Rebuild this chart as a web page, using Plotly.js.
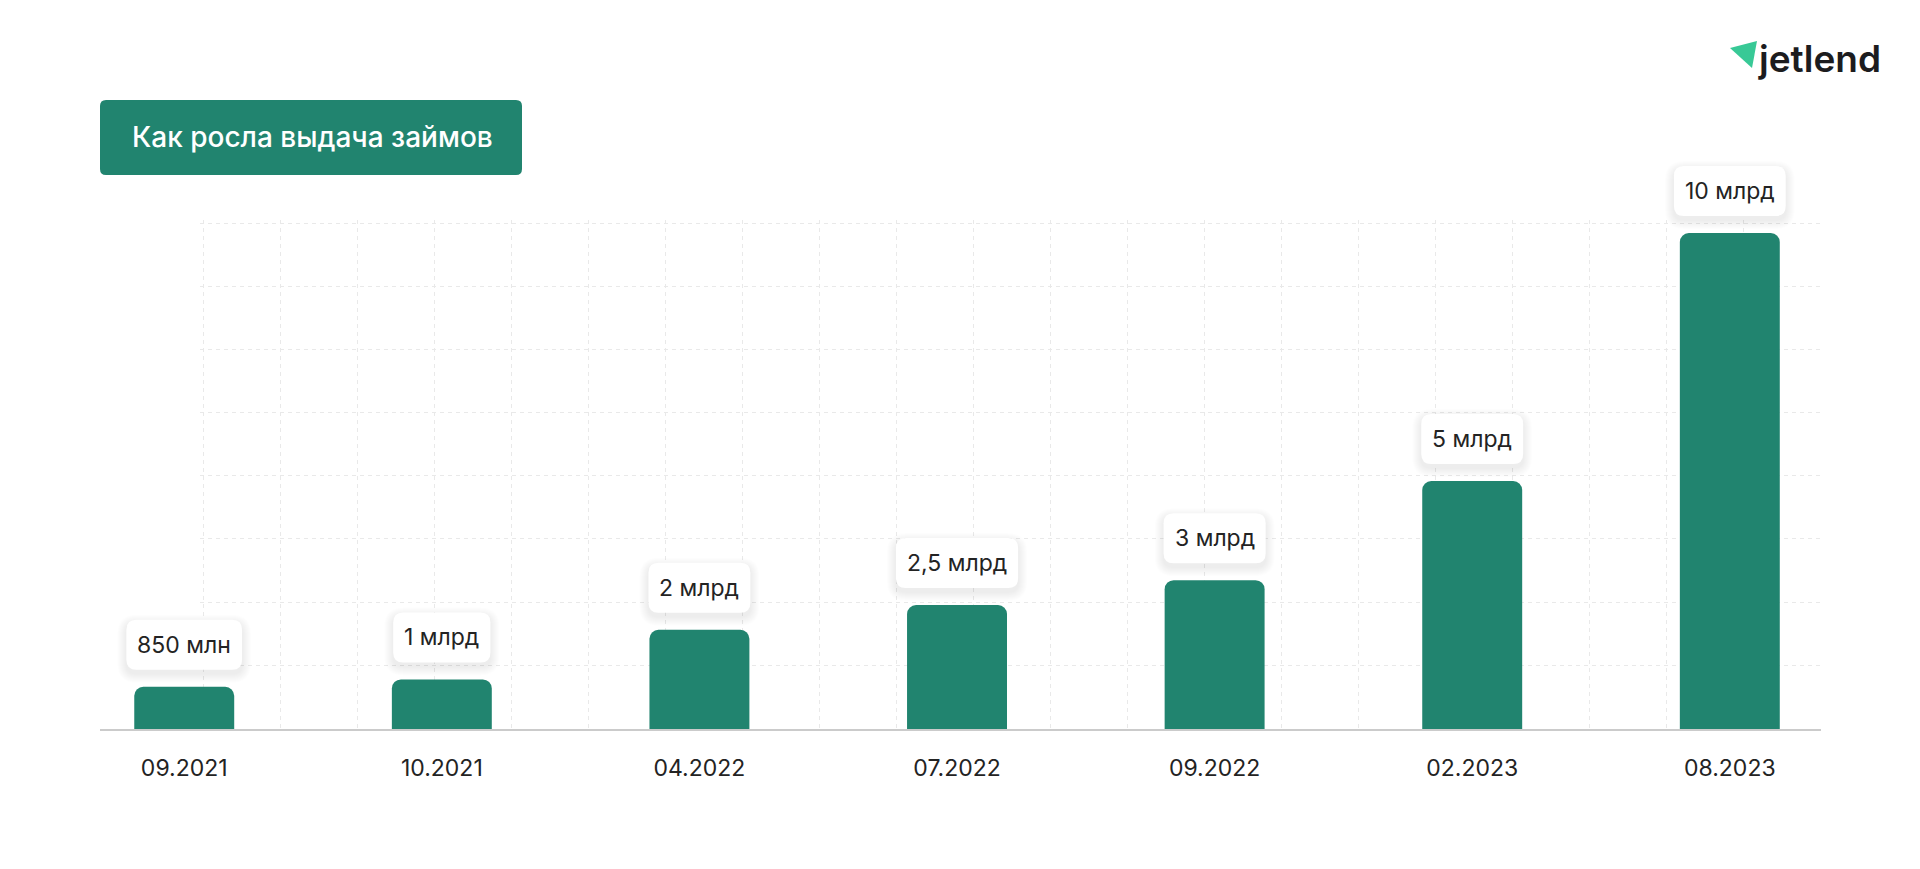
<!DOCTYPE html>
<html><head><meta charset="utf-8">
<script src="https://cdn.plot.ly/plotly-3.0.1.min.js"></script>
<style>html,body{margin:0;padding:0;background:#fff;} #chart{width:1920px;height:869px;}</style>
</head><body><div id="chart"></div>
<script>
// ---- data ----
const categories = ['09.2021', '10.2021', '04.2022', '07.2022', '09.2022', '02.2023', '08.2023'];
const values = [0.85, 1, 2, 2.5, 3, 5, 10]; // млрд руб.
const valueLabels = ['850 млн', '1 млрд', '2 млрд', '2,5 млрд', '3 млрд', '5 млрд', '10 млрд'];
const titleText = 'Как росла выдача займов';
const logoText = 'jetlend';

// ---- style ----
const FONT = 'Inter, "Noto Sans", sans-serif';
const GREEN = '#21846F';
const TEXT = '#232323';
const LABEL_SIZE = 23;

function rr(xl, yb, xr, yt, r) {
  return `M ${xl + r},${yb} L ${xr - r},${yb} Q ${xr},${yb} ${xr},${yb + r} L ${xr},${yt - r} Q ${xr},${yt} ${xr - r},${yt} L ${xl + r},${yt} Q ${xl},${yt} ${xl},${yt - r} L ${xl},${yb + r} Q ${xl},${yb} ${xl + r},${yb} Z`;
}

const cv = document.createElement('canvas').getContext('2d');
cv.font = LABEL_SIZE + 'px Inter';

const shapes = [];
const annotations = [];

// value label boxes (category index used as position on the category axis)
categories.forEach((c, i) => {
  const w = cv.measureText(valueLabels[i]).width + 22;
  const gap = 17, h = 50;
  for (let e = 9; e >= 1; e--) {
    shapes.push({
      type: 'path', xref: 'x2', yref: 'y2', xsizemode: 'pixel', ysizemode: 'pixel',
      xanchor: i, yanchor: values[i],
      path: rr(-w / 2 - e, gap - 4 - e, w / 2 + e, gap + h - 4 + e, 10 + e),
      fillcolor: 'rgba(0,0,0,0.008)', line: { width: 0 }
    });
  }
  shapes.push({
    type: 'path', xref: 'x2', yref: 'y2', xsizemode: 'pixel', ysizemode: 'pixel',
    xanchor: i, yanchor: values[i],
    path: rr(-w / 2, gap, w / 2, gap + h, 10),
    fillcolor: '#ffffff', line: { width: 0 }
  });
  annotations.push({
    xref: 'x2', yref: 'y2', x: i, y: values[i], yanchor: 'middle', xanchor: 'center',
    yshift: gap + h / 2, showarrow: false, text: valueLabels[i],
    font: { family: FONT, size: LABEL_SIZE, color: TEXT }
  });
});

// title box
shapes.push({
  type: 'path', xref: 'paper', yref: 'paper', xsizemode: 'pixel', ysizemode: 'pixel',
  xanchor: 0, yanchor: 1, path: rr(0, -35, 422, 40, 6),
  fillcolor: GREEN, line: { width: 0 }
});
annotations.push({
  xref: 'paper', yref: 'paper', x: 0, y: 1, xanchor: 'left', yanchor: 'middle',
  xshift: 30, yshift: 3, showarrow: false, text: titleText,
  font: { family: FONT, size: 28, color: '#ffffff', weight: 500 }
});

// logo
shapes.push({
  type: 'path', xref: 'paper', yref: 'paper', xsizemode: 'pixel', ysizemode: 'pixel',
  xanchor: 1, yanchor: 1, path: 'M -91,92 L -64,99 L -69,72 Z',
  fillcolor: '#38C996', line: { width: 0 }
});
annotations.push({
  xref: 'paper', yref: 'paper', x: 1, y: 1, xanchor: 'right', yanchor: 'middle',
  xshift: 62, yshift: 82, showarrow: false, text: logoText,
  font: { family: FONT, size: 37, color: '#1c1c1e', weight: 600 }
});

const gridTrace = {
  type: 'scatter', x: [0], y: [0], xaxis: 'x', yaxis: 'y', mode: 'markers',
  marker: { opacity: 0 }, hoverinfo: 'skip', showlegend: false
};

const barTrace = {
  type: 'bar', x: categories, y: values, xaxis: 'x2', yaxis: 'y2',
  width: 0.388, marker: { color: GREEN, cornerradius: 9, line: { width: 0 } },
  hoverinfo: 'skip', showlegend: false
};

const gridLine = { color: '#e9e9e9', width: 1, dash: '4px,4px' };

const layout = {
  width: 1920, height: 869,
  margin: { l: 100, r: 99, t: 140, b: 140 },
  paper_bgcolor: '#ffffff', plot_bgcolor: 'rgba(0,0,0,0)',
  showlegend: false,
  font: { family: FONT, color: TEXT },
  xaxis: {
    domain: [100 / 1721, 1], range: [-0.05, 21.01], dtick: 1, tick0: 0,
    showgrid: true, gridcolor: gridLine.color, gridwidth: 1, griddash: gridLine.dash,
    zeroline: false, showline: false, showticklabels: false, ticks: '', fixedrange: true
  },
  yaxis: {
    domain: [0, 509 / 589], range: [-0.01, 8.05], dtick: 1, tick0: 0,
    showgrid: true, gridcolor: gridLine.color, gridwidth: 1, griddash: gridLine.dash,
    zeroline: false, showline: false, showticklabels: false, ticks: '', fixedrange: true
  },
  xaxis2: {
    anchor: 'y2', domain: [0, 1], type: 'category', range: [-0.327, 6.354],
    showgrid: false, zeroline: false, showline: true, linecolor: '#cbcbcb', linewidth: 2,
    ticks: '', ticklabelstandoff: 17,
    tickfont: { family: FONT, size: 23, color: TEXT }, fixedrange: true
  },
  yaxis2: {
    anchor: 'x2', domain: [0, 1], range: [0, 11.875],
    showgrid: false, zeroline: false, showline: false, showticklabels: false, fixedrange: true
  },
  shapes: shapes,
  annotations: annotations
};

Plotly.newPlot('chart', [gridTrace, barTrace], layout, { displayModeBar: false, staticPlot: true });
</script>
</body></html>
